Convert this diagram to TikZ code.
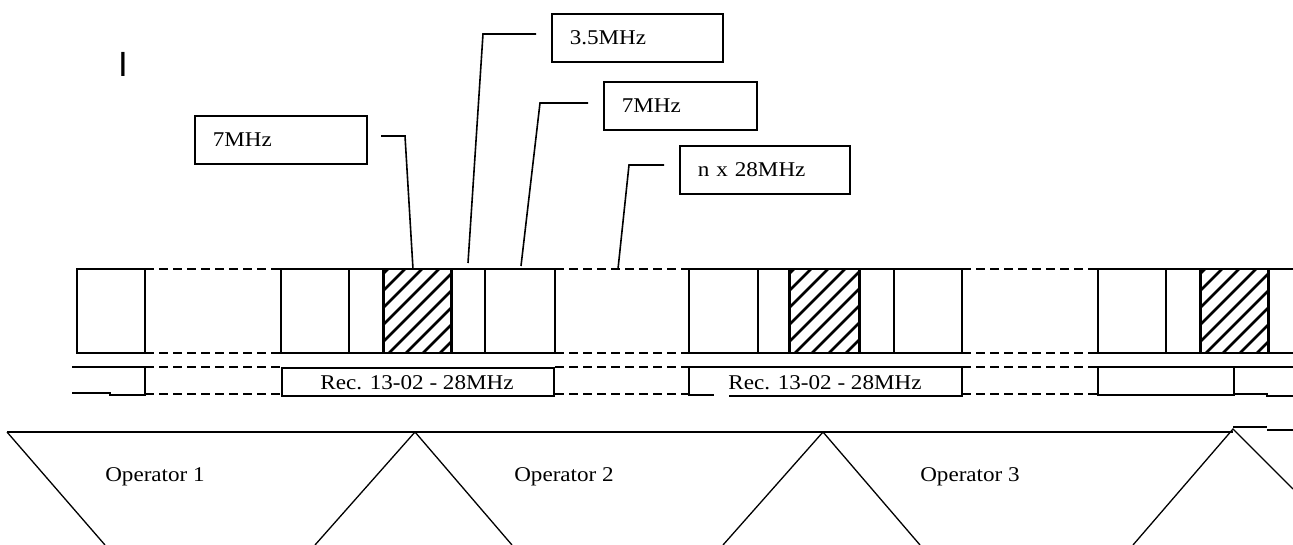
\documentclass[tikz,border=0pt]{standalone}
\usepackage{fontspec}
\setmainfont[FakeStretch=1.1]{Liberation Serif}
\newfontfamily\sansI{Liberation Sans}
\newcommand{\myhatch}[2]{%
  \begin{scope}
    \clip (#1,269) rectangle (#2,353);
    \foreach \k in {-1,...,10} {\draw[hatchline] ({#1+5+17*\k},269) -- ({#1+5+17*\k-84},353);}
  \end{scope}
  \draw[thickline] (#1,269) -- (#1,353) (#2,269) -- (#2,353);}
\begin{document}
\begin{tikzpicture}[x=1pt,y=-1pt,
  font=\fontsize{21}{25}\selectfont,
  solid line/.style={line width=1.6pt,line cap=rect},
  dashline/.style={line width=1.6pt,dash pattern=on 9pt off 5pt},
  hatchline/.style={line width=2.6pt},
  thickline/.style={line width=3pt},
  triline/.style={line width=1.3pt},
  labelbox/.style={draw,line width=1.6pt,anchor=north west,minimum height=48pt,
    inner xsep=18pt,inner ysep=0pt,align=left},
  leader/.style={line width=1.6pt}]
\useasboundingbox (0,0) rectangle (1293,545);

% cursor-like mark
\node[anchor=base,inner sep=0pt,font=\sansI\fontsize{35}{35}\selectfont] (mark) at (123,77) {I};

% label boxes
\node[labelbox,text width=136pt] (b7a) at (194,115) {7MHz};
\node[labelbox,text width=135pt] (b35) at (551,13) {3.5MHz};
\node[labelbox,text width=117pt] (b7b) at (603,81) {7MHz};
\node[labelbox,text width=134pt] (bn) at (679,145) {n x 28MHz};

% leader coordinates
\coordinate (l1a) at (381,136); \coordinate (l1b) at (405,136); \coordinate (l1c) at (413,269);
\coordinate (l2a) at (536,34);  \coordinate (l2b) at (483,34);  \coordinate (l2c) at (468,263);
\coordinate (l3a) at (588,103); \coordinate (l3b) at (540,103); \coordinate (l3c) at (521,266);
\coordinate (l4a) at (664,165); \coordinate (l4b) at (629,165); \coordinate (l4c) at (618,269);
\draw[leader] (l1a) -- (l1b) -- (l1c);
\draw[leader] (l2a) -- (l2b) -- (l2c);
\draw[leader] (l3a) -- (l3b) -- (l3c);
\draw[leader] (l4a) -- (l4b) -- (l4c);

% main channel row
\draw[solid line] (77,269) rectangle (145,353);
\foreach \a/\b in {145/281,555/689,962/1098} {
  \draw[dashline] (\a,269) -- (\b,269);
  \draw[dashline] (\a,353) -- (\b,353);
  \draw[dashline] (\a,367) -- (\b,367);
  \draw[dashline] (\a,394) -- (\b,394);
}
% group 1
\draw[solid line] (281,269) rectangle (555,353);
\draw[solid line] (349,269) -- (349,353) (485,269) -- (485,353);
\myhatch{383}{451}
% group 2
\draw[solid line] (689,269) rectangle (962,353);
\draw[solid line] (758,269) -- (758,353) (894,269) -- (894,353);
\myhatch{789}{859}
% group 3
\draw[solid line] (1293,269) -- (1098,269) -- (1098,353) -- (1293,353);
\draw[solid line] (1166,269) -- (1166,353);
\myhatch{1200}{1268}

% second row
\draw[solid line] (73,367) -- (145,367) -- (145,395);
\draw[solid line] (73,393) -- (110,393);
\draw[solid line] (110,395) -- (145,395);
\node[draw,line width=1.6pt,minimum width=272pt,minimum height=28pt,inner sep=0pt,anchor=north west] (rec1) at (281,367) {};
\node[anchor=base,inner sep=0pt] (rec1t) at (417,389) {Rec. 13-02 - 28MHz};
\draw[solid line] (713,395) -- (689,395) -- (689,367) -- (962,367) -- (962,396);
\draw[solid line] (730,396) -- (962,396);
\node[anchor=base,inner sep=0pt] (rec2t) at (825,389) {Rec. 13-02 - 28MHz};
\draw[solid line] (1098,367) rectangle (1234,395);
\draw[solid line] (1234,367) -- (1293,367);
\draw[solid line] (1234,394) -- (1267,394);
\draw[solid line] (1267,396) -- (1293,396);

% operator triangles
\coordinate (t0) at (7,432);
\coordinate (t1) at (415,432);
\coordinate (t2) at (823,432);
\coordinate (t3) at (1233,429);
\draw[triline] (t0) -- (1233,432);
\draw[triline] (1233,427) -- (1267,427);
\draw[triline] (1267,430) -- (1293,430);
\draw[triline] (t0) -- (105,545);
\draw[triline] (315,545) -- (t1) -- (512,545);
\draw[triline] (723,545) -- (t2) -- (920,545);
\draw[triline] (1133,545) -- (t3) -- (1293,489);
\node[anchor=base,inner sep=0pt] (op1) at (155,481) {Operator 1};
\node[anchor=base,inner sep=0pt] (op2) at (564,481) {Operator 2};
\node[anchor=base,inner sep=0pt] (op3) at (970,481) {Operator 3};
\end{tikzpicture}
\end{document}
